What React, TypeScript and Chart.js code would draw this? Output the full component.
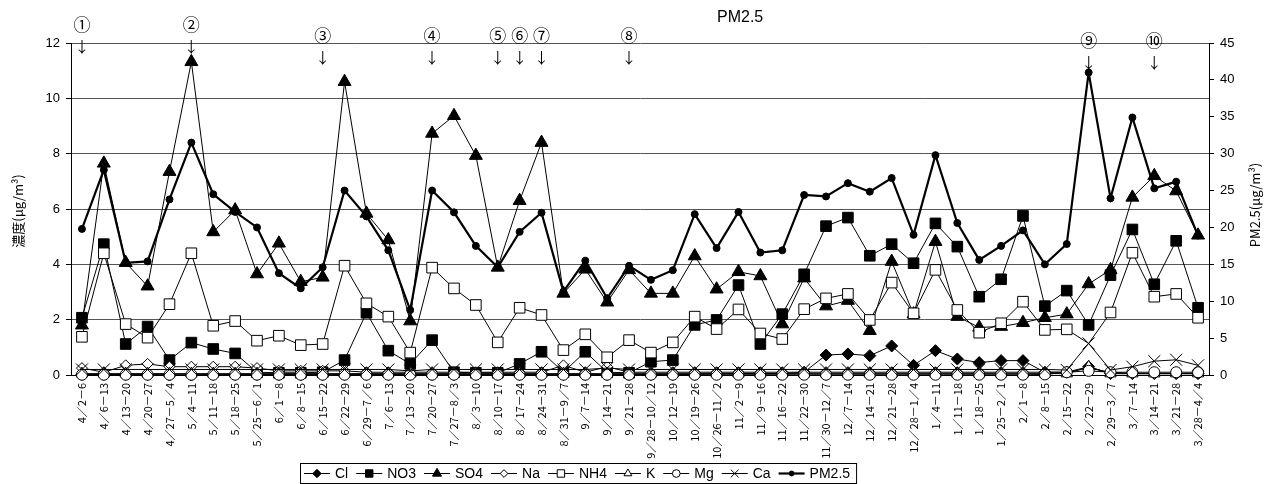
import React, { useEffect, useRef } from 'react';
import { Chart, registerables } from 'chart.js';

Chart.register(...registerables);

// ---------- data ----------
const categories = [
  '4／2－6', '4／6－13', '4／13－20', '4／20－27', '4／27－5／4', '5／4－11', '5／11－18', '5／18－25',
  '5／25－6／1', '6／1－8', '6／8－15', '6／15－22', '6／22－29', '6／29－7／6', '7／6－13', '7／13－20',
  '7／20－27', '7／27－8／3', '8／3－10', '8／10－17', '8／17－24', '8／24－31', '8／31－9／7', '9／7－14',
  '9／14－21', '9／21－28', '9／28－10／12', '10／12－19', '10／19－26', '10／26－11／2', '11／2－9', '11／9－16',
  '11／16－22', '11／22－30', '11／30－12／7', '12／7－14', '12／14－21', '12／21－28', '12／28－1／4', '1／4－11',
  '1／11－18', '1／18－25', '1／25－2／1', '2／1－8', '2／8－15', '2／15－22', '2／22－29', '2／29－3／7',
  '3／7－14', '3／14－21', '3／21－28', '3／28－4／4',
];

const cl = [
  0.02, 0.02, 0.02, 0.02, 0.0, 0.0, 0.02, 0.02, 0.02, 0.02, 0.02, 0.02, 0.02,
  0.02, 0.02, 0.02, 0.02, 0.02, 0.02, 0.02, 0.02, 0.02, 0.02, 0.02, 0.02, 0.02,
  0.02, 0.02, 0.02, 0.05, 0.05, 0.05, 0.05, 0.1, 0.72, 0.76, 0.7, 1.05, 0.35,
  0.88, 0.58, 0.45, 0.52, 0.52, 0.1, 0.1, 0.3, 0.05, 0.05, 0.05, 0.05, 0.05,
];
const no3 = [
  2.07, 4.73, 1.12, 1.75, 0.54, 1.17, 0.94, 0.78, 0.1, 0.08, 0.08, 0.1, 0.54,
  2.25, 0.88, 0.4, 1.26, 0.1, 0.08, 0.08, 0.4, 0.84, 0.1, 0.84, 0.1, 0.08,
  0.48, 0.54, 1.81, 1.99, 3.25, 1.12, 2.2, 3.64, 5.38, 5.69, 4.31, 4.73, 4.04,
  5.48, 4.64, 2.83, 3.46, 5.75, 2.49, 3.05, 1.81, 3.61, 5.26, 3.28, 4.85, 2.43,
];
const so4 = [
  1.8, 7.65, 4.06, 3.21, 7.35, 11.32, 5.17, 5.96, 3.65, 4.76, 3.37, 3.53, 10.6,
  5.84, 4.88, 1.95, 8.73, 9.37, 7.93, 3.89, 6.3, 8.4, 2.95, 3.82, 2.63, 3.8,
  2.95, 2.95, 4.3, 3.1, 3.73, 3.58, 1.84, 3.5, 2.49, 2.69, 1.6, 4.1, 2.2,
  4.82, 2.11, 1.72, 1.75, 1.89, 2.07, 2.2, 3.29, 3.8, 6.42, 7.2, 6.65, 5.05,
];
const na = [
  0.25, 0.1, 0.35, 0.4, 0.3, 0.3, 0.3, 0.3, 0.25, 0.15, 0.15, 0.15, 0.15,
  0.1, 0.1, 0.1, 0.1, 0.1, 0.1, 0.1, 0.1, 0.1, 0.35, 0.1, 0.3, 0.1,
  0.1, 0.1, 0.1, 0.1, 0.1, 0.1, 0.1, 0.1, 0.1, 0.1, 0.1, 0.1, 0.1,
  0.1, 0.1, 0.1, 0.1, 0.1, 0.1, 0.1, 0.25, 0.1, 0.05, 0.05, 0.05, 0.05,
];
const nh4 = [
  1.38, 4.4, 1.84, 1.35, 2.56, 4.4, 1.78, 1.95, 1.24, 1.42, 1.08, 1.12, 3.95,
  2.59, 2.11, 0.81, 3.88, 3.13, 2.53, 1.18, 2.43, 2.17, 0.9, 1.47, 0.64, 1.26,
  0.81, 1.18, 2.11, 1.66, 2.37, 1.5, 1.3, 2.38, 2.77, 2.93, 1.99, 3.34, 2.23,
  3.8, 2.35, 1.53, 1.87, 2.65, 1.63, 1.65, 1.14, 2.26, 4.42, 2.83, 2.93, 2.07,
];
const nh4HiddenPoints = [46];
const k = [
  0.05, 0.05, 0.05, 0.05, 0.05, 0.05, 0.05, 0.05, 0.05, 0.05, 0.05, 0.05, 0.05,
  0.05, 0.05, 0.05, 0.05, 0.05, 0.05, 0.05, 0.05, 0.05, 0.05, 0.05, 0.05, 0.05,
  0.05, 0.05, 0.05, 0.05, 0.05, 0.05, 0.05, 0.05, 0.05, 0.05, 0.05, 0.05, 0.05,
  0.05, 0.05, 0.05, 0.05, 0.05, 0.05, 0.05, 0.3, 0.05, 0.05, 0.05, 0.05, 0.05,
];
const mg = [
  0.01, 0.01, 0.01, 0.01, 0.01, 0.01, 0.01, 0.01, 0.01, 0.01, 0.01, 0.01, 0.01,
  0.01, 0.01, 0.01, 0.01, 0.01, 0.01, 0.01, 0.01, 0.01, 0.01, 0.01, 0.01, 0.01,
  0.01, 0.01, 0.01, 0.01, 0.01, 0.01, 0.01, 0.01, 0.01, 0.01, 0.01, 0.01, 0.01,
  0.01, 0.01, 0.01, 0.01, 0.01, 0.02, 0.1, 0.15, 0.1, 0.1, 0.1, 0.1, 0.1,
];
const ca = [
  0.2, 0.2, 0.2, 0.2, 0.2, 0.2, 0.2, 0.2, 0.2, 0.2, 0.2, 0.2, 0.2,
  0.2, 0.2, 0.15, 0.2, 0.2, 0.2, 0.2, 0.2, 0.2, 0.2, 0.2, 0.25, 0.2,
  0.2, 0.2, 0.2, 0.2, 0.2, 0.2, 0.2, 0.2, 0.2, 0.2, 0.2, 0.2, 0.2,
  0.2, 0.2, 0.2, 0.2, 0.2, 0.2, 0.18, 1.14, 0.18, 0.3, 0.5, 0.55, 0.35,
];
const pm25 = [
  19.8, 27.8, 15.2, 15.4, 23.8, 31.5, 24.5, 22.1, 20.0, 13.8, 11.75, 14.6, 25.0,
  21.5, 16.9, 8.8, 25.0, 22.05, 17.5, 14.6, 19.4, 22.0, 11.3, 15.5, 10.4, 14.8,
  12.9, 14.2, 21.8, 17.2, 22.1, 16.6, 16.9, 24.4, 24.2, 26.0, 24.85, 26.7, 19.0,
  29.8, 20.6, 15.6, 17.5, 19.6, 15.0, 17.75, 41.0, 23.95, 34.9, 25.3, 26.2, 18.9,
];

const seriesNames = ['Cl', 'NO3', 'SO4', 'Na', 'NH4', 'K', 'Mg', 'Ca', 'PM2.5'];
const chartTitle = 'PM2.5';
const leftAxisTitle = '濃度(μg/m³)';
const rightAxisTitle = 'PM2.5(μg/m³)';
const leftTicks = { min: 0, max: 12, step: 2 };
const rightTicks = { min: 0, max: 45, step: 5 };

const eventLabels = ['①', '②', '③', '④', '⑤', '⑥', '⑦', '⑧', '⑨', '⑩'];
const eventCategoryIndex = [0, 5, 11, 16, 19, 20, 21, 25, 46, 49];
const eventTier = [0, 0, 1, 1, 1, 1, 1, 1, 2, 2];

// ---------- styles ----------
const numFont = "'Liberation Sans', Arial, sans-serif";
const cjkFont = "'Noto Sans CJK JP', 'Noto Sans', sans-serif";

type Marker = 'circle' | 'rect' | 'rectRot' | 'triangle' | 'crossRot';
const seriesStyle: { marker: Marker; r: number; fill: string; lw: number }[] = [
  { marker: 'rectRot', r: 6, fill: '#000', lw: 1 },
  { marker: 'rect', r: 7.5, fill: '#000', lw: 1 },
  { marker: 'triangle', r: 7.5, fill: '#000', lw: 1 },
  { marker: 'rectRot', r: 5.5, fill: '#fff', lw: 1 },
  { marker: 'rect', r: 7.5, fill: '#fff', lw: 1 },
  { marker: 'triangle', r: 6.5, fill: '#fff', lw: 1 },
  { marker: 'circle', r: 5.5, fill: '#fff', lw: 1 },
  { marker: 'crossRot', r: 8.5, fill: 'rgba(0,0,0,0)', lw: 1 },
  { marker: 'circle', r: 3.5, fill: '#000', lw: 2.2 },
];
const tierY = [
  { label: 25, arrow: 46 },
  { label: 36, arrow: 57 },
  { label: 41, arrow: 62 },
];

function drawMarker(ctx: CanvasRenderingContext2D, m: Marker, x: number, y: number, r: number, fill: string) {
  ctx.beginPath();
  if (m === 'circle') ctx.arc(x, y, r, 0, Math.PI * 2);
  else if (m === 'rect') {
    const s = r * Math.SQRT1_2;
    ctx.rect(x - s, y - s, 2 * s, 2 * s);
  } else if (m === 'rectRot') {
    ctx.moveTo(x, y - r); ctx.lineTo(x + r, y); ctx.lineTo(x, y + r); ctx.lineTo(x - r, y); ctx.closePath();
  } else if (m === 'triangle') {
    ctx.moveTo(x, y - r); ctx.lineTo(x + r * 0.866, y + r / 2); ctx.lineTo(x - r * 0.866, y + r / 2); ctx.closePath();
  } else {
    const d = r * Math.SQRT1_2;
    ctx.moveTo(x - d, y - d); ctx.lineTo(x + d, y + d); ctx.moveTo(x - d, y + d); ctx.lineTo(x + d, y - d);
  }
  if (m !== 'crossRot') { ctx.fillStyle = fill; ctx.fill(); }
  ctx.strokeStyle = '#000';
  ctx.lineWidth = 1;
  ctx.stroke();
}

const overlayPlugin = {
  id: 'overlay',
  afterDraw(chart: any) {
    const ctx: CanvasRenderingContext2D = chart.ctx;
    const area = chart.chartArea;
    const xs = chart.scales.x;
    ctx.save();
    ctx.fillStyle = '#000';
    ctx.textAlign = 'center';
    ctx.textBaseline = 'middle';

    // title
    ctx.font = `16px ${numFont}`;
    ctx.fillText(chartTitle, area.left + (area.right - area.left) * 0.588, 18);

    // event markers
    eventLabels.forEach((lab, i) => {
      const x = xs.getPixelForValue(eventCategoryIndex[i]);
      const t = tierY[eventTier[i]];
      ctx.font = `17px ${cjkFont}`;
      ctx.fillText(lab, x, t.label);
      ctx.font = `15px ${cjkFont}`;
      ctx.fillText('↓', x, t.arrow);
    });

    // axis titles
    const cy = (area.top + area.bottom) / 2;
    ctx.font = `13px ${cjkFont}`;
    ctx.save();
    ctx.translate(18, cy + 2);
    ctx.rotate(-Math.PI / 2);
    ctx.fillText(leftAxisTitle, 0, 0);
    ctx.restore();
    ctx.save();
    ctx.translate(1255, cy - 4);
    ctx.rotate(-Math.PI / 2);
    ctx.fillText(rightAxisTitle, 0, 0);
    ctx.restore();

    // legend
    ctx.font = `14px ${numFont}`;
    ctx.textAlign = 'left';
    const lineLen = 26;
    const gap = 5;
    const itemGap = 8;
    const widths = seriesNames.map((n) => ctx.measureText(n).width);
    const total = widths.reduce((a, w) => a + lineLen + gap + w + itemGap, 0) - itemGap + 10;
    const boxLeft = 300;
    const boxTop = 463;
    const boxH = 20;
    ctx.strokeStyle = '#000';
    ctx.lineWidth = 1;
    ctx.strokeRect(boxLeft + 0.5, boxTop + 0.5, total, boxH);
    let x = boxLeft + 4;
    const ly = boxTop + boxH / 2 + 0.5;
    seriesNames.forEach((n, i) => {
      const st = seriesStyle[i];
      ctx.beginPath();
      ctx.moveTo(x, ly);
      ctx.lineTo(x + lineLen, ly);
      ctx.lineWidth = st.lw;
      ctx.strokeStyle = '#000';
      ctx.stroke();
      drawMarker(ctx, st.marker, x + lineLen / 2, ly, Math.min(st.r * 0.7, 5.5), st.fill);
      ctx.fillStyle = '#000';
      ctx.fillText(n, x + lineLen + gap, ly + 1);
      x += lineLen + gap + widths[i] + itemGap;
    });
    ctx.restore();
  },
};

export default function App() {
  const ref = useRef<HTMLCanvasElement | null>(null);
  useEffect(() => {
    if (!ref.current) return;
    const seriesData = [cl, no3, so4, na, nh4, k, mg, ca, pm25];
    const datasets = seriesData.map((d, i) => {
      const st = seriesStyle[i];
      const isPm = i === 8;
      return {
        label: seriesNames[i],
        data: d,
        yAxisID: isPm ? 'y1' : 'y',
        borderColor: '#000',
        borderWidth: st.lw,
        backgroundColor: st.fill,
        pointStyle: st.marker,
        pointRadius: i === 4 ? (c: any) => (nh4HiddenPoints.includes(c.dataIndex) ? 0 : st.r) : st.r,
        pointBorderColor: '#000',
        pointBackgroundColor: st.fill,
        pointBorderWidth: 1,
        tension: 0,
        fill: false,
        clip: false as any,
        order: -i,
      };
    });

    const chart = new Chart(ref.current, {
      type: 'line',
      data: { labels: categories, datasets },
      options: {
        responsive: false,
        animation: false,
        devicePixelRatio: 1,
        layout: { padding: { top: 43, left: 0, right: 0, bottom: 0 } },
        plugins: {
          legend: { display: false },
          tooltip: { enabled: false },
          title: { display: false },
        },
        scales: {
          x: {
            offset: true,
            grid: { display: false, drawTicks: false },
            border: { display: true, color: '#000', width: 1 },
            ticks: {
              autoSkip: false,
              maxRotation: 90,
              minRotation: 90,
              padding: 8,
              color: '#000',
              font: { family: cjkFont, size: 11 },
            },
            afterFit: (s: any) => { s.height = 109; },
          },
          y: {
            position: 'left',
            min: leftTicks.min,
            max: leftTicks.max,
            ticks: { stepSize: leftTicks.step, color: '#000', padding: 6, font: { family: numFont, size: 13 } },
            grid: { color: '#555', lineWidth: 1, tickLength: 5, tickColor: '#000' },
            border: { display: true, color: '#000', width: 1 },
            afterFit: (s: any) => { s.width = 71; },
          },
          y1: {
            position: 'right',
            min: rightTicks.min,
            max: rightTicks.max,
            ticks: { stepSize: rightTicks.step, color: '#000', padding: 6, font: { family: numFont, size: 13 } },
            grid: { drawOnChartArea: false, tickLength: 5, tickColor: '#000' },
            border: { display: true, color: '#000', width: 1 },
            afterFit: (s: any) => { s.width = 60; },
          },
        },
      },
      plugins: [overlayPlugin],
    });
    return () => chart.destroy();
  }, []);

  return (
    <div style={{ position: 'fixed', left: 0, top: 0, width: 1269, height: 484, background: '#fff' }}>
      <canvas ref={ref} width={1269} height={484} style={{ display: 'block' }} />
    </div>
  );
}
